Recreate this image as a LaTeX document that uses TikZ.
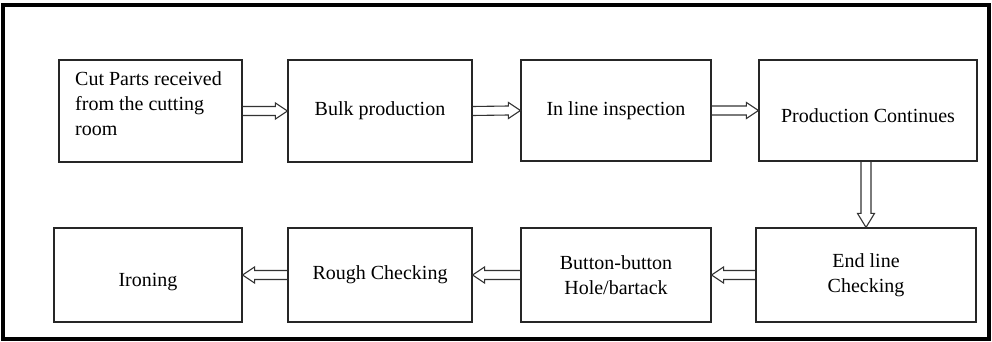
\documentclass[tikz,border=0pt]{standalone}
\usepackage{fontspec}
\setmainfont{Liberation Serif}
\usetikzlibrary{calc}
\tikzset{
  box/.style={draw=black!85, line width=1.2pt, rectangle, inner sep=0pt,
    font=\fontsize{20}{25}\selectfont, align=center},
  arr/.style={draw=black!80, line width=1.1pt, line join=miter},
}
\newcommand\rarr[2]{\draw[arr] ($(#1)+(0,-4.5)$) -- ($(#2)+(-12,-4.5)$) -- ($(#2)+(-12,-8)$) -- (#2) -- ($(#2)+(-12,8)$) -- ($(#2)+(-12,4.5)$) -- ($(#1)+(0,4.5)$);}
\newcommand\larr[2]{\draw[arr] ($(#1)+(0,-4.5)$) -- ($(#2)+(12,-4.5)$) -- ($(#2)+(12,-8)$) -- (#2) -- ($(#2)+(12,8)$) -- ($(#2)+(12,4.5)$) -- ($(#1)+(0,4.5)$);}
\newcommand\darr[2]{\draw[arr] ($(#1)+(-5,0)$) -- ($(#2)+(-5,-14)$) -- ($(#2)+(-8.5,-14)$) -- (#2) -- ($(#2)+(8.5,-14)$) -- ($(#2)+(5,-14)$) -- ($(#1)+(5,0)$);}
\begin{document}
\begin{tikzpicture}[x=1pt,y=-1pt]
\useasboundingbox (0,0) rectangle (992,342);
\draw[line width=4pt, black] (3,5) rectangle (989,339);
% top row
\node[box, minimum width=183pt, minimum height=102pt] (b1) at (150.5,111) {};
\node[anchor=north west, inner sep=0pt, align=left, font=\fontsize{20}{25}\selectfont] (t1) at (75,71.5) {Cut Parts received\\from the cutting\\room};
\node[box, minimum width=184pt, minimum height=102pt] (b2) at (380,111) {Bulk production};
\node[box, minimum width=190pt, minimum height=101pt] (b3) at (616,110.5) {In line inspection};
\node[box, minimum width=218pt, minimum height=101pt] (b4) at (868,110.5) {\raisebox{-12pt}[0pt][0pt]{Production Continues}};
% bottom row
\node[box, minimum width=188pt, minimum height=94pt] (b5) at (148,275) {\raisebox{-11pt}[0pt][0pt]{Ironing}};
\node[box, minimum width=184pt, minimum height=94pt] (b6) at (380,275) {Rough Checking};
\node[box, minimum width=190pt, minimum height=94pt] (b7) at (616,275) {Button-button\\Hole/bartack};
\node[box, minimum width=220pt, minimum height=94pt] (b8) at (866,275) {End line\\Checking};
% connectors
\rarr{b1.east}{b2.west}
\rarr{b2.east}{b3.west}
\rarr{b3.east}{b4.west}
\darr{b8.north |- b4.south}{b8.north}
\larr{b8.west}{b7.east}
\larr{b7.west}{b6.east}
\larr{b6.west}{b5.east}
\end{tikzpicture}
\end{document}
